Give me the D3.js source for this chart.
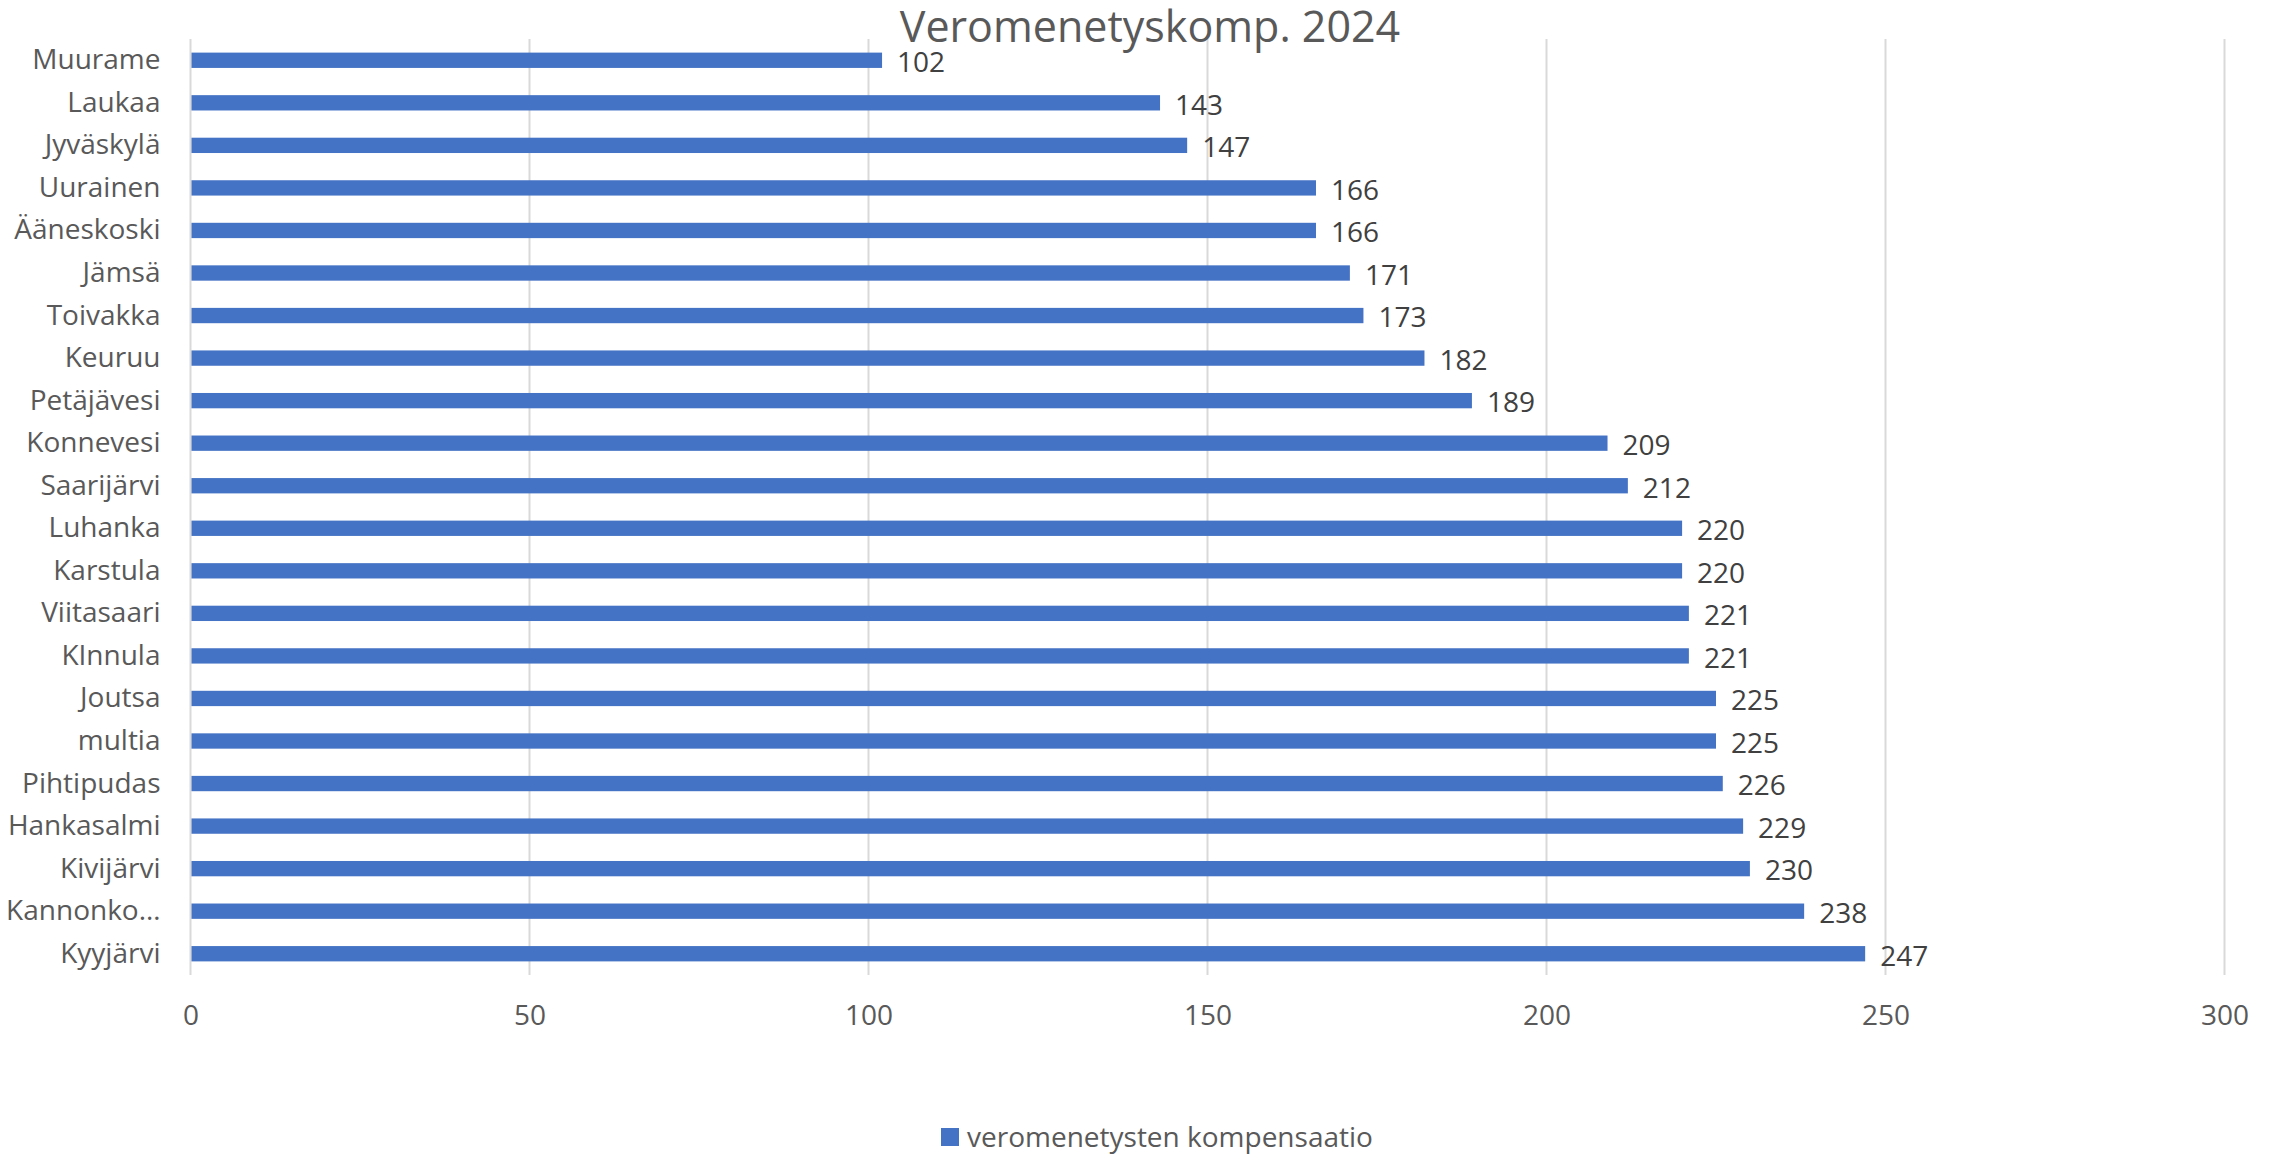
<!DOCTYPE html>
<html>
<head>
<meta charset="utf-8">
<script src="https://cdn.jsdelivr.net/npm/d3@7"></script>
<style>
    body { margin: 0; background: #fff; }
    svg text { font-family: "Open Sans", "Noto Sans", sans-serif; }
</style>
</head>
<body>
<svg id="chart" width="2277" height="1155"></svg>
<script>
// data, top to bottom as in the picture
var kunnat = ["Muurame", "Laukaa", "Jyväskylä", "Uurainen", "Ääneskoski", "Jämsä", "Toivakka",
    "Keuruu", "Petäjävesi", "Konnevesi", "Saarijärvi", "Luhanka", "Karstula", "Viitasaari",
    "KInnula", "Joutsa", "multia", "Pihtipudas", "Hankasalmi", "Kivijärvi", "Kannonko…", "Kyyjärvi"];
var arvot = [102, 143, 147, 166, 166, 171, 173, 182, 189, 209, 212, 220, 220, 221, 221,
    225, 225, 226, 229, 230, 238, 247];
var xTicks = [0, 50, 100, 150, 200, 250, 300];
var otsikko = "Veromenetyskomp. 2024";
var sarja = "veromenetysten kompensaatio";

var svg = d3.select("#chart");
var plotLeft = 190.5, plotRight = 2224.5, plotTop = 39, plotBottom = 975;
var barColor = "#4472C4";

var x = d3.scaleLinear().domain([0, 300]).range([plotLeft, plotRight]);
var y = d3.scaleBand().domain(kunnat).range([plotTop, plotBottom])
    .paddingInner(0.64).paddingOuter(0.32);

// gridlines
svg.append("g").selectAll("line").data(xTicks).enter().append("line")
    .attr("x1", function(d){ return x(d); })
    .attr("x2", function(d){ return x(d); })
    .attr("y1", plotTop).attr("y2", plotBottom)
    .style("stroke", "#d9d9d9")
    .style("stroke-width", 2);

// bars
svg.append("g").selectAll("rect").data(arvot).enter().append("rect")
    .attr("x", x(0) + 1)
    .attr("y", function(d, i){ return y(kunnat[i]); })
    .attr("width", function(d){ return x(d) - x(0) - 1; })
    .attr("height", y.bandwidth())
    .style("fill", barColor);

// value labels
svg.append("g").selectAll("text").data(arvot).enter().append("text")
    .attr("x", function(d){ return x(d) + 15; })
    .attr("y", function(d, i){ return y(kunnat[i]) + y.bandwidth() / 2 + 2; })
    .attr("dy", "0.35em")
    .style("font-size", "28px")
    .style("fill", "#404040")
    .text(function(d){ return d; });

// category axis
var yAxis = svg.append("g")
    .attr("transform", "translate(" + plotLeft + ",0)")
    .call(d3.axisLeft(y).tickSize(0).tickPadding(30));
yAxis.select(".domain").remove();
yAxis.selectAll("text")
    .style("font-size", "28px")
    .style("fill", "#595959");

// value axis
var xAxis = svg.append("g")
    .attr("transform", "translate(0," + plotBottom + ")")
    .call(d3.axisBottom(x).tickValues(xTicks).tickSize(0).tickPadding(30));
xAxis.select(".domain").remove();
xAxis.selectAll("text")
    .style("font-size", "28px")
    .style("fill", "#595959");

// title
svg.append("text")
    .attr("x", 1150).attr("y", 42)
    .attr("text-anchor", "middle")
    .style("font-size", "43px")
    .style("fill", "#595959")
    .text(otsikko);

// legend
var legend = svg.append("g").attr("transform", "translate(941,1137)");
legend.append("rect")
    .attr("x", 0).attr("y", -9)
    .attr("width", 18).attr("height", 18)
    .style("fill", barColor);
legend.append("text")
    .attr("x", 26).attr("y", 0)
    .attr("dy", "0.35em")
    .style("font-size", "28px")
    .style("fill", "#595959")
    .text(sarja);
</script>
</body>
</html>
